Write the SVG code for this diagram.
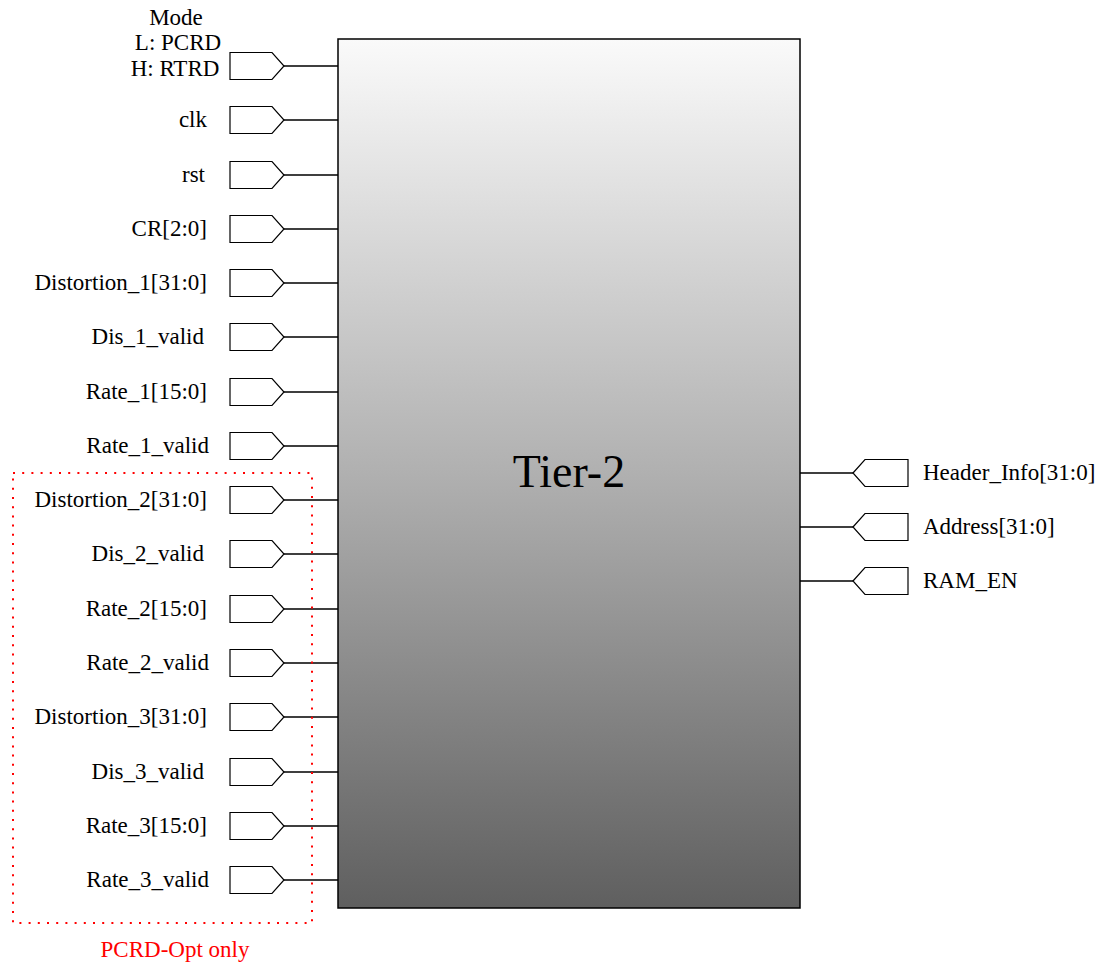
<svg xmlns="http://www.w3.org/2000/svg" xmlns:xlink="http://www.w3.org/1999/xlink" width="1101" height="963" viewBox="0 0 1101 963">
<style>
.lbl{font-family:"Liberation Serif","Times New Roman",serif;font-size:23px;fill:#000}
.port{fill:#fff;stroke:#000;stroke-width:1.2}
.wire{stroke:#000;stroke-width:1.3;fill:none}
.title{font-family:"Liberation Serif","Times New Roman",serif;font-size:46px;fill:#000}
.note{font-family:"Liberation Serif","Times New Roman",serif;font-size:23px;fill:#f00}
</style>
<defs>
<linearGradient id="g" x1="0" y1="0" x2="0" y2="1">
<stop offset="0" stop-color="#fafafa"/>
<stop offset="0.5" stop-color="#b0b0b0"/>
<stop offset="1" stop-color="#5f5f5f"/>
</linearGradient>
<path id="inport" d="M0,-13.5 H42 L54,0 L42,13.5 H0 Z"/>
<path id="outport" d="M0,0 L12,-13.5 H55 V13.5 H12 Z"/>
</defs>
<rect width="1101" height="963" fill="#fff"/>
<g id="connectors">
<path class="wire" d="M284,66H338 M284,120H338 M284,175H338 M284,229H338 M284,283H338 M284,337H338 M284,392H338 M284,446H338 M284,500H338 M284,554H338 M284,609H338 M284,663H338 M284,717H338 M284,772H338 M284,826H338 M284,880H338"/>
<path class="wire" d="M800,473H853 M800,527H853 M800,581H853"/>
</g>
<g id="tier2">
<rect x="338" y="39" width="462" height="869" fill="url(#g)" stroke="#000" stroke-width="1.5"/>
<text class="title" x="569" y="487" text-anchor="middle">Tier-2</text>
</g>
<g id="pcrd-opt-region">
<rect x="13" y="473" width="299" height="450" fill="none" stroke="#f00" stroke-width="2" stroke-dasharray="2 7.2"/>
<text class="note" x="175" y="957" text-anchor="middle">PCRD-Opt only</text>
</g>
<g id="in-mode"><use href="#inport" class="port" x="230" y="66"/>
<text class="lbl" x="176" y="25" text-anchor="middle">Mode</text>
<text class="lbl" x="178" y="50" text-anchor="middle">L: PCRD</text>
<text class="lbl" x="175" y="76" text-anchor="middle">H: RTRD</text></g>
<g id="in-clk"><use href="#inport" class="port" x="230" y="120"/><text class="lbl" x="207" y="127" text-anchor="end">clk</text></g>
<g id="in-rst"><use href="#inport" class="port" x="230" y="175"/><text class="lbl" x="205" y="182" text-anchor="end">rst</text></g>
<g id="in-cr"><use href="#inport" class="port" x="230" y="229"/><text class="lbl" x="207" y="236" text-anchor="end">CR[2:0]</text></g>
<g id="in-dist1"><use href="#inport" class="port" x="230" y="283"/><text class="lbl" x="207" y="290" text-anchor="end">Distortion_1[31:0]</text></g>
<g id="in-dis1v"><use href="#inport" class="port" x="230" y="337"/><text class="lbl" x="204" y="344" text-anchor="end">Dis_1_valid</text></g>
<g id="in-rate1"><use href="#inport" class="port" x="230" y="392"/><text class="lbl" x="207" y="399" text-anchor="end">Rate_1[15:0]</text></g>
<g id="in-rate1v"><use href="#inport" class="port" x="230" y="446"/><text class="lbl" x="209" y="453" text-anchor="end">Rate_1_valid</text></g>
<g id="in-dist2"><use href="#inport" class="port" x="230" y="500"/><text class="lbl" x="207" y="507" text-anchor="end">Distortion_2[31:0]</text></g>
<g id="in-dis2v"><use href="#inport" class="port" x="230" y="554"/><text class="lbl" x="204" y="561" text-anchor="end">Dis_2_valid</text></g>
<g id="in-rate2"><use href="#inport" class="port" x="230" y="609"/><text class="lbl" x="207" y="616" text-anchor="end">Rate_2[15:0]</text></g>
<g id="in-rate2v"><use href="#inport" class="port" x="230" y="663"/><text class="lbl" x="209" y="670" text-anchor="end">Rate_2_valid</text></g>
<g id="in-dist3"><use href="#inport" class="port" x="230" y="717"/><text class="lbl" x="207" y="724" text-anchor="end">Distortion_3[31:0]</text></g>
<g id="in-dis3v"><use href="#inport" class="port" x="230" y="772"/><text class="lbl" x="204" y="779" text-anchor="end">Dis_3_valid</text></g>
<g id="in-rate3"><use href="#inport" class="port" x="230" y="826"/><text class="lbl" x="207" y="833" text-anchor="end">Rate_3[15:0]</text></g>
<g id="in-rate3v"><use href="#inport" class="port" x="230" y="880"/><text class="lbl" x="209" y="887" text-anchor="end">Rate_3_valid</text></g>
<g id="out-header"><use href="#outport" class="port" x="853" y="473"/><text class="lbl" x="923" y="480">Header_Info[31:0]</text></g>
<g id="out-addr"><use href="#outport" class="port" x="853" y="527"/><text class="lbl" x="923" y="534">Address[31:0]</text></g>
<g id="out-ramen"><use href="#outport" class="port" x="853" y="581"/><text class="lbl" x="923" y="588">RAM_EN</text></g>
</svg>
